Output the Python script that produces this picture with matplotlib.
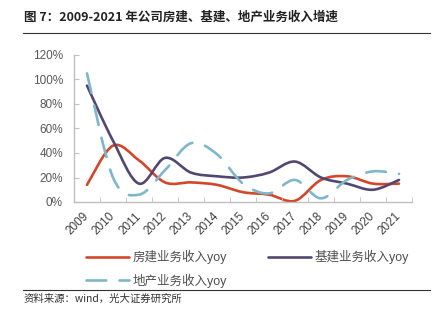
import numpy as np
import matplotlib.pyplot as plt
from matplotlib.path import Path
from matplotlib.patches import PathPatch
from matplotlib.lines import Line2D
from matplotlib.ticker import FixedLocator, FuncFormatter

plt.rcParams['font.family'] = ['Liberation Sans', 'Noto Sans CJK SC', 'DejaVu Sans']

# datos (%)
years = [str(y) for y in range(2009, 2022)]
fangjian = [14, 46, 34, 16, 16, 14, 8, 6, 1, 18, 21, 15, 15]
jijian = [95, 50, 15, 36, 24, 21, 20, 24, 33, 20, 15, 10, 18]
dichan = [105, 20, 6, 26, 48, 39, 15, 7, 18, 3, 18, 25, 23]

labels = ["房建业务收入yoy", "基建业务收入yoy", "地产业务收入yoy"]
colors = ["#D2472A", "#52486F", "#7FB6CA"]


# curva suavizada tipo Excel (bezier)
def smooth_path(vals):
    pts = np.column_stack([np.arange(len(vals), dtype=float), np.asarray(vals, float)])
    n = len(pts)
    verts = [pts[0]]
    codes = [Path.MOVETO]
    for i in range(n - 1):
        p_prev = pts[i - 1] if i > 0 else pts[i]
        p_next = pts[i + 2] if i + 2 < n else pts[i + 1]
        c1 = pts[i] + (pts[i + 1] - p_prev) / 6
        c2 = pts[i + 1] - (p_next - pts[i]) / 6
        verts += [c1, c2, pts[i + 1]]
        codes += [Path.CURVE4] * 3
    return Path(verts, codes)


fig = plt.figure(figsize=(4.43, 3.21), dpi=100)
ax = fig.add_axes([74 / 443, 1 - 202 / 321, 338 / 443, 147 / 321])

lw = 1.9
handles = []
for serie, lab, col in zip([fangjian, jijian, dichan], labels, colors):
    ls = (0, (7.5, 5)) if lab.startswith("地产") else "-"
    patch = PathPatch(smooth_path(serie), fill=False, edgecolor=col, lw=lw,
                      linestyle=ls, capstyle='round', joinstyle='round')
    ax.add_patch(patch)
    handles.append(Line2D([], [], color=col, lw=lw, linestyle=ls,
                          dash_capstyle='round', solid_capstyle='round'))

ax.set_xlim(-0.5, len(years) - 0.5)
ax.set_ylim(0, 120)
ax.set_xticks(range(len(years)))
ax.set_xticklabels(years, rotation=45, ha='right', va='center', rotation_mode='anchor')
ax.xaxis.set_minor_locator(FixedLocator(np.arange(-0.5, len(years), 1)))
ax.set_yticks(range(0, 121, 20))
ax.yaxis.set_major_formatter(FuncFormatter(lambda v, p: f"{v:.0f}%"))

ax.tick_params(axis='x', which='major', length=0, pad=9, labelsize=8.5, labelcolor='#404040')
ax.tick_params(axis='x', which='minor', length=3.5, direction='in', color='#BFBFBF')
ax.tick_params(axis='y', length=3.5, direction='in', color='#BFBFBF', pad=8,
               labelsize=8.5, labelcolor='#595959')
for s in ['top', 'right']:
    ax.spines[s].set_visible(False)
for s in ['left', 'bottom']:
    ax.spines[s].set_color('#BFBFBF')
    ax.spines[s].set_linewidth(1)

# leyenda
order = [0, 2, 1]
fig.legend([handles[i] for i in order], [labels[i] for i in order], ncol=2,
           loc='upper left', bbox_to_anchor=(75 / 443, 1 - 239 / 321), frameon=False,
           fontsize=9, handlelength=3.4, handletextpad=0.3, columnspacing=3.3,
           labelspacing=0.72, labelcolor='#505050')

# titulo y fuente
fig.text(24 / 443, 1 - 17 / 321, "图 7：2009-2021 年公司房建、基建、地产业务收入增速",
         family=['Noto Sans CJK SC'], fontweight='bold', fontsize=9, va='center', color='#222222')
fig.add_artist(Line2D([23 / 443, 430 / 443], [1 - 33 / 321] * 2, color='#333333', lw=0.8))
fig.add_artist(Line2D([23 / 443, 430 / 443], [1 - 290 / 321] * 2, color='#333333', lw=0.8))
fig.text(24 / 443, 1 - 299 / 321, "资料来源：wind，光大证券研究所",
         family=['Noto Sans CJK SC'], fontsize=7.5, va='center', color='#333333')

fig.savefig("out.png", dpi=100)
